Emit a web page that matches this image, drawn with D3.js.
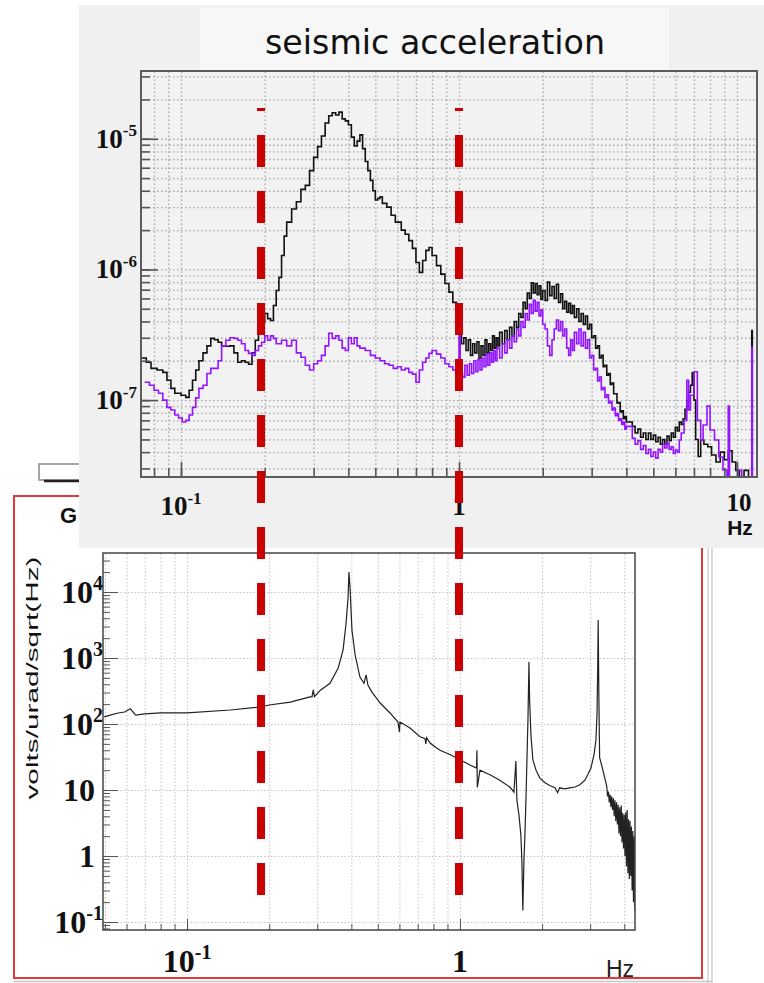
<!DOCTYPE html>
<html><head><meta charset="utf-8">
<script src="https://cdn.jsdelivr.net/npm/d3@7"></script>
<style>body{margin:0;background:#fff;} svg{display:block;}</style>
</head><body>
<svg id="c" width="764" height="983"></svg>
<script>
// ---------- DATA ----------
const topTitle = "seismic acceleration";
const topFreqBlack = [0.072,0.075,0.078,0.082,0.086,0.089,0.092,0.095,0.1,0.104,
0.107,0.11,0.113,0.116,0.12,0.124,0.128,0.132,0.136,0.14,
0.145,0.15,0.155,0.16,0.165,0.17,0.175,0.18,0.185,0.19,
0.195,0.2,0.205,0.21,0.215,0.22,0.225,0.23,0.235,0.24,
0.25,0.26,0.27,0.28,0.29,0.3,0.31,0.32,0.33,0.34,
0.35,0.36,0.37,0.38,0.39,0.4,0.41,0.42,0.43,0.44,
0.45,0.46,0.47,0.48,0.49,0.5,0.51,0.52,0.53,0.55,
0.57,0.59,0.62,0.64,0.66,0.68,0.7,0.72,0.74,0.76,
0.78,0.8,0.83,0.86,0.89,0.92,0.95,0.98,
1.00,1.02,1.04,1.06,1.08,1.10,1.12,1.14,1.16,1.18,1.20,1.22,1.24,1.26,1.28,1.30,1.32,1.34,1.36,1.38,1.40,
1.43,1.46,1.49,1.52,1.55,1.58,1.61,1.64,1.67,1.70,1.73,1.76,1.79,1.82,1.85,1.88,1.91,1.94,1.97,
2.00,2.04,2.08,2.12,2.16,2.20,2.24,2.28,2.32,2.36,2.40,2.44,2.48,2.52,2.56,2.60,
2.65,2.70,2.75,2.80,2.85,2.90,2.95,3.00,3.05,3.10,3.15,3.20,3.25,3.30,3.35,3.40,3.45,3.50,3.55,3.60,3.65,3.70,3.75,3.80,3.85,3.90,3.95,4.00,
4.2,4.3,4.4,4.5,4.6,4.7,4.8,4.9,5.0,5.1,5.2,5.3,5.4,5.5,5.6,5.7,5.8,5.9,6.0,6.1,
6.2,6.3,6.4,6.5,6.6,6.7,6.8,6.9,7.0,7.1,7.25,7.4,7.6,7.85,8.1,8.4,8.7,9.0,9.3,9.6,
9.9,10.2,10.6,11.0,11.25,11.3,11.35,11.8];
const topAccelBlack = [2.1e-7,1.95e-7,1.75e-7,1.7e-7,1.63e-7,1.42e-7,1.23e-7,1.13e-7,1.09e-7,1.05e-7,
1.19e-7,1.42e-7,1.7e-7,2.0e-7,2.3e-7,2.6e-7,2.97e-7,2.9e-7,2.77e-7,2.58e-7,
2.58e-7,2.6e-7,2.3e-7,1.95e-7,2.0e-7,1.95e-7,1.88e-7,2.3e-7,2.87e-7,3.2e-7,
3.95e-7,4.6e-7,4.2e-7,4.07e-7,5.3e-7,6.9e-7,8.7e-7,1.28e-6,1.8e-6,2.3e-6,
2.9e-6,3.3e-6,4.1e-6,4.4e-6,5.7e-6,7.2e-6,8.7e-6,1.05e-5,1.32e-5,1.5e-5,
1.58e-5,1.52e-5,1.6e-5,1.42e-5,1.37e-5,1.28e-5,1.03e-5,8.8e-6,9.6e-6,1.07e-5,
8.4e-6,6.7e-6,5.7e-6,4.8e-6,4.0e-6,3.4e-6,3.5e-6,3.6e-6,3.2e-6,3.0e-6,
2.6e-6,2.3e-6,2.0e-6,1.86e-6,1.66e-6,1.45e-6,1.13e-6,9.5e-7,1.17e-6,1.4e-6,
1.47e-6,1.28e-6,1.07e-6,9.2e-7,7.8e-7,6.7e-7,5.6e-7,4.2e-7,
3.4e-7,2.7e-7,3.0e-7,2.4e-7,2.9e-7,2.2e-7,2.7e-7,2.3e-7,2.8e-7,2.1e-7,2.6e-7,2.2e-7,2.9e-7,2.3e-7,2.7e-7,2.4e-7,3.1e-7,2.5e-7,3.0e-7,2.6e-7,3.3e-7,
2.7e-7,3.4e-7,2.9e-7,3.6e-7,3.1e-7,4.0e-7,3.6e-7,4.6e-7,4.3e-7,5.6e-7,5.0e-7,6.6e-7,6.0e-7,7.9e-7,6.6e-7,7.8e-7,6.4e-7,7.5e-7,5.9e-7,
6.9e-7,5.8e-7,8.0e-7,6.3e-7,7.4e-7,6.0e-7,7.7e-7,5.6e-7,6.5e-7,5.0e-7,5.7e-7,4.7e-7,5.5e-7,4.6e-7,5.3e-7,4.3e-7,
5.0e-7,4.0e-7,4.6e-7,3.8e-7,4.4e-7,3.5e-7,3.8e-7,3.0e-7,3.1e-7,2.5e-7,2.6e-7,2.1e-7,2.2e-7,1.8e-7,1.85e-7,1.55e-7,1.6e-7,1.32e-7,1.35e-7,1.12e-7,1.12e-7,9.5e-8,9.6e-8,8.1e-8,8.3e-8,7.2e-8,7.5e-8,6.8e-8,
6.3e-8,5.6e-8,6.0e-8,5.2e-8,5.6e-8,5.0e-8,5.6e-8,5.0e-8,5.4e-8,4.8e-8,5.2e-8,4.6e-8,5.0e-8,4.6e-8,5.3e-8,4.9e-8,5.6e-8,5.2e-8,6.2e-8,5.8e-8,
6.8e-8,6.5e-8,7.2e-8,8.5e-8,1.0e-7,1.15e-7,1.3e-7,1.62e-7,1.0e-7,5.0e-8,3.7e-8,4.95e-8,4.6e-8,4.4e-8,3.8e-8,3.36e-8,4.0e-8,3.5e-8,4.1e-8,3.36e-8,
2.9e-8,2.5e-8,2.9e-8,2.5e-8,2.5e-8,3.4e-7,2.5e-8,2.5e-8];

const topFreqPurple = [0.074,0.077,0.08,0.083,0.086,0.089,0.092,0.095,0.098,0.101,
0.104,0.107,0.11,0.113,0.116,0.12,0.124,0.128,0.132,0.136,
0.14,0.145,0.15,0.155,0.16,0.165,0.17,0.175,0.18,0.185,
0.19,0.195,0.2,0.205,0.21,0.215,0.22,0.23,0.24,0.25,
0.26,0.27,0.28,0.29,0.3,0.31,0.32,0.33,0.34,0.35,
0.36,0.37,0.38,0.39,0.4,0.41,0.42,0.43,0.44,0.46,
0.48,0.5,0.52,0.54,0.56,0.58,0.6,0.62,0.64,0.66,
0.68,0.7,0.72,0.74,0.76,0.78,0.8,0.83,0.86,0.89,
0.92,0.95,0.98,
1.00,1.01,1.03,1.05,1.07,1.09,1.11,1.13,1.15,1.17,1.19,1.21,1.23,1.25,1.27,1.29,1.31,1.33,1.35,1.37,
1.40,1.43,1.46,1.49,1.52,1.55,1.58,1.61,1.64,1.67,1.70,1.73,1.76,1.79,1.82,1.85,1.88,1.91,1.94,1.97,
2.00,2.04,2.08,2.12,2.16,2.20,2.24,2.28,2.32,2.36,2.40,2.44,2.48,2.52,2.56,2.60,
2.65,2.70,2.75,2.80,2.85,2.90,2.95,3.00,3.05,3.10,3.15,3.20,3.25,3.30,3.35,3.40,3.45,3.50,3.55,3.60,3.65,3.70,3.75,3.80,3.85,3.90,3.95,4.00,
4.2,4.3,4.4,4.5,4.6,4.7,4.8,4.9,5.0,5.1,5.2,5.3,5.4,5.5,5.6,5.7,5.8,5.9,6.0,6.1,
6.2,6.3,6.45,6.6,6.7,6.8,7.0,7.2,7.4,7.55,7.8,8.0,8.3,8.6,8.9,9.2,9.3,9.4,10.1,10.4,
11.25,11.3,11.35,11.8];
const topAccelPurple = [1.37e-7,1.3e-7,1.19e-7,1.13e-7,1.0e-7,8.8e-8,8.4e-8,7.7e-8,7.3e-8,6.8e-8,
7.0e-8,7.7e-8,8.8e-8,1.04e-7,1.23e-7,1.3e-7,1.6e-7,1.75e-7,1.75e-7,2.0e-7,
2.6e-7,2.87e-7,3.0e-7,2.97e-7,2.87e-7,2.7e-7,2.4e-7,2.28e-7,2.2e-7,2.4e-7,
2.6e-7,2.77e-7,3.1e-7,2.87e-7,3.1e-7,2.97e-7,2.7e-7,2.87e-7,2.6e-7,2.87e-7,
2.3e-7,2.13e-7,1.85e-7,1.7e-7,1.9e-7,2.0e-7,2.2e-7,2.6e-7,3.25e-7,2.97e-7,
3.1e-7,2.87e-7,2.5e-7,2.4e-7,3.0e-7,2.7e-7,3.0e-7,2.6e-7,2.5e-7,2.4e-7,
2.2e-7,2.1e-7,2.0e-7,1.9e-7,1.85e-7,1.75e-7,1.8e-7,1.7e-7,1.75e-7,1.63e-7,
1.58e-7,1.37e-7,1.7e-7,1.95e-7,2.1e-7,2.28e-7,2.4e-7,2.25e-7,2.1e-7,1.9e-7,
1.8e-7,1.7e-7,1.85e-7,
3.1e-7,1.6e-7,1.5e-7,1.85e-7,1.55e-7,1.9e-7,1.6e-7,2.0e-7,1.65e-7,2.05e-7,1.7e-7,2.1e-7,1.8e-7,2.25e-7,1.85e-7,2.3e-7,1.95e-7,2.4e-7,2.0e-7,2.5e-7,
2.1e-7,2.7e-7,2.3e-7,2.9e-7,2.5e-7,3.1e-7,2.8e-7,3.5e-7,3.1e-7,4.0e-7,3.6e-7,4.6e-7,4.1e-7,5.4e-7,4.6e-7,5.8e-7,4.8e-7,5.6e-7,4.4e-7,4.9e-7,
3.8e-7,3.5e-7,2.6e-7,2.2e-7,2.9e-7,3.5e-7,4.1e-7,3.4e-7,4.0e-7,3.1e-7,3.5e-7,2.5e-7,2.2e-7,2.9e-7,2.4e-7,3.3e-7,
2.7e-7,3.5e-7,2.6e-7,3.3e-7,2.5e-7,2.9e-7,2.1e-7,2.2e-7,1.7e-7,1.75e-7,1.4e-7,1.5e-7,1.2e-7,1.25e-7,1.05e-7,1.1e-7,9.5e-8,9.8e-8,8.4e-8,8.7e-8,7.6e-8,7.9e-8,7.0e-8,7.2e-8,6.5e-8,6.8e-8,6.0e-8,6.3e-8,
5.1e-8,4.6e-8,4.9e-8,4.2e-8,4.5e-8,3.9e-8,4.2e-8,3.7e-8,4.0e-8,3.6e-8,4.2e-8,4.0e-8,4.6e-8,4.3e-8,4.7e-8,4.2e-8,4.4e-8,3.9e-8,4.15e-8,4.0e-8,
4.95e-8,5.6e-8,7.0e-8,1.42e-7,8.4e-8,1.09e-7,1.65e-7,7.0e-8,4.95e-8,6.45e-8,9.0e-8,5.9e-8,4.95e-8,3.67e-8,2.92e-8,2.5e-8,9.0e-8,2.5e-8,2.9e-8,2.5e-8,
2.5e-8,2.54e-7,2.5e-8,2.5e-8];

const botFreq = [0.0497,0.0523,0.0559,0.059,0.062,0.0648,0.07,0.08,0.1,0.144,
0.185,0.2,0.239,0.282,0.287,0.29,0.293,0.308,0.334,0.358,
0.373,0.382,0.389,0.392,0.396,0.402,0.413,0.43,0.445,0.453,
0.46,0.476,0.51,0.554,0.593,0.6,0.603,0.656,0.714,0.745,
0.75,0.755,0.777,0.824,0.845,0.919,1.0,1.088,1.15,1.154,
1.158,1.184,1.288,1.4,1.524,1.577,1.603,1.617,1.645,1.672,
1.686,1.7,1.716,1.73,1.745,1.76,1.775,1.79,1.8,1.82,
1.85,1.9,1.96,2.05,2.14,2.23,2.28,2.32,2.42,2.53,
2.64,2.75,2.87,2.94,3.02,3.1,3.15,3.18,3.2,3.21,
3.23,3.25,3.34,
3.45,3.475,3.5,3.525,3.55,3.575,3.6,3.625,3.65,3.675,3.7,3.725,3.75,3.775,3.8,3.825,3.85,3.875,3.9,3.925,
3.95,3.975,4.0,4.025,4.05,4.075,4.1,4.125,4.15,4.175,4.2,4.225,4.25,4.275,4.3,4.325,4.35,4.375];
const botResponse = [128,136,147,152,170,136,142,147,147,163,
181,194,215,257,257,330,260,326,414,706,
1330,3160,8100,20000,10700,2650,1110,515,414,555,
390,305,208,147,107,76,107,87,64,60,
50,62,51.5,43,40,34.5,28.8,24,21.5,40,
11,20,17,14.1,11.1,9.3,27.5,7.0,4.2,2.08,
0.87,0.15,0.87,2.08,7.0,28.8,115,870,232,69,
28.8,20,15.3,12.9,11.6,10.8,9.1,10.8,10.4,10.8,
11.1,12.0,14.1,17,21.5,34.5,57.3,147,933,3770,
232,31,20,
11.5,8.0,9.5,6.5,8.5,5.5,8.0,5.0,7.5,4.0,7.0,3.4,6.5,3.0,6.0,2.2,5.5,2.0,5.8,1.6,
4.5,1.3,4.2,1.0,4.6,0.7,5.0,0.55,3.6,0.45,3.4,0.5,2.8,0.3,2.4,0.2,2.0,0.15];

const markerFreqs = [0.194, 1.0];
const topYTickValues = [1e-7, 1e-6, 1e-5];
const topYTickLabels = [["10","-7"],["10","-6"],["10","-5"]];
const topXTickValues = [0.1, 1, 10];
const topXTickLabels = [["10","-1"],["1",""],["10",""]];
const botYTickValues = [0.1, 1, 10, 100, 1000, 10000];
const botYTickLabels = [["10","-1"],["1",""],["10",""],["10","2"],["10","3"],["10","4"]];
const botXTickValues = [0.1, 1];
const botXTickLabels = [["10","-1"],["1",""]];
const botYTitle = "volts/urad/sqrt(Hz)";
const unitLabel = "Hz";
const sideLabel = "G";

// ---------- DRAW ----------
const svg = d3.select("#c");
svg.append("rect").attr("width",764).attr("height",983).attr("fill","#fff");

const SERIF = "'Liberation Serif','Times New Roman',serif";
const SANS = "'Liberation Sans',Arial,sans-serif";

function supLabel(g, x, y, parts, size, supSize, anchor){
  const t = g.append("text").attr("x",x).attr("y",y).attr("text-anchor",anchor)
    .attr("font-family",SERIF).attr("font-weight","bold").attr("font-size",size).attr("fill","#111");
  t.append("tspan").text(parts[0]);
  if(parts[1]) t.append("tspan").attr("dy",-size*0.42).attr("font-size",supSize).text(parts[1]);
  return t;
}

// ----- bottom panel (behind) -----
const bp = svg.append("g");
bp.append("rect").attr("x",39).attr("y",464).attr("width",45).attr("height",16)
  .attr("fill","#fff").attr("stroke","#888").attr("stroke-width",1.5);
bp.append("line").attr("x1",44).attr("x2",84).attr("y1",481).attr("y2",481).attr("stroke","#222").attr("stroke-width",2.5);
bp.append("rect").attr("x",14).attr("y",496).attr("width",688).attr("height",482)
  .attr("fill","none").attr("stroke","#e23a3a").attr("stroke-width",2);
bp.append("line").attr("x1",708).attr("x2",708).attr("y1",540).attr("y2",983).attr("stroke","#c8c8c8").attr("stroke-width",1.3);
bp.append("line").attr("x1",712).attr("x2",712).attr("y1",540).attr("y2",983).attr("stroke","#c8c8c8").attr("stroke-width",1.3);
bp.append("line").attr("x1",14).attr("x2",712).attr("y1",981.5).attr("y2",981.5).attr("stroke","#c8c8c8").attr("stroke-width",1.3);
bp.append("text").attr("x",60).attr("y",523).attr("font-family",SANS).attr("font-weight","bold")
  .attr("font-size",22).attr("fill","#111").text(sideLabel);
bp.append("text").attr("transform","translate(38,678) rotate(-90)").attr("text-anchor","middle")
  .attr("font-family",SANS).attr("font-size",17).attr("fill","#111")
  .attr("textLength",243).attr("lengthAdjust","spacingAndGlyphs").text(botYTitle);

const xB = d3.scaleLog().domain([0.0492, 4.38]).range([103, 635]);
const yB = d3.scaleLog().domain([0.0757, 3.9e4]).range([930, 553]);
const bpl = bp.append("g");
bpl.append("rect").attr("x",103).attr("y",553).attr("width",532).attr("height",377).attr("fill","#fff");
bpl.append("g").attr("transform","translate(0,930)")
  .call(d3.axisBottom(xB).tickValues(xB.ticks()).tickSize(-377).tickFormat(""))
  .call(g=>{g.select(".domain").remove(); g.selectAll("line").attr("stroke","#c4c4c4").attr("stroke-dasharray","1.5,2");});
bpl.append("g").attr("transform","translate(103,0)")
  .call(d3.axisLeft(yB).tickValues(botYTickValues).tickSize(-532).tickFormat(""))
  .call(g=>{g.select(".domain").remove(); g.selectAll("line").attr("stroke","#c4c4c4").attr("stroke-dasharray","1.5,2");});
bpl.append("g").attr("transform","translate(103,0)")
  .call(d3.axisLeft(yB).tickValues(yB.ticks()).tickSize(-7).tickFormat(""))
  .call(g=>{g.select(".domain").remove(); g.selectAll("line").attr("stroke","#555");});
bpl.append("g").attr("transform","translate(103,0)")
  .call(d3.axisLeft(yB).tickValues(botYTickValues).tickSize(-15).tickFormat(""))
  .call(g=>{g.select(".domain").remove(); g.selectAll("line").attr("stroke","#555");});
bpl.append("g").attr("transform","translate(0,930)")
  .call(d3.axisBottom(xB).tickValues(xB.ticks()).tickSize(-6).tickFormat(""))
  .call(g=>{g.select(".domain").remove(); g.selectAll("line").attr("stroke","#555");});
bpl.append("g").attr("transform","translate(0,930)")
  .call(d3.axisBottom(xB).tickValues(botXTickValues).tickSize(-11).tickFormat(""))
  .call(g=>{g.select(".domain").remove(); g.selectAll("line").attr("stroke","#555");});
bpl.append("clipPath").attr("id","cb").append("rect").attr("x",103).attr("y",553).attr("width",532).attr("height",377);
const botData = botFreq.map((f,i)=>({f, v: botResponse[i]}));
bpl.append("path").datum(botData).attr("clip-path","url(#cb)")
  .attr("d", d3.line().x(d=>xB(d.f)).y(d=>yB(d.v)))
  .attr("fill","none").attr("stroke","#222").attr("stroke-width",1.2);
bpl.append("rect").attr("x",103).attr("y",553).attr("width",532).attr("height",377)
  .attr("fill","none").attr("stroke","#444").attr("stroke-width",1.5);
botYTickValues.forEach((v,i)=>{
  const p = botYTickLabels[i];
  supLabel(bpl, p[1] ? 103 : 95, yB(v)+11, p, 32, 20, "end");
});
botXTickValues.forEach((v,i)=>{
  supLabel(bpl, xB(v), 972, botXTickLabels[i], 32, 20, "middle");
});
bpl.append("text").attr("x",620).attr("y",977).attr("text-anchor","middle").attr("font-family",SANS)
  .attr("font-size",23).attr("fill","#222").text(unitLabel);

// ----- top panel -----
const tp = svg.append("g");
tp.append("rect").attr("x",79).attr("y",5).attr("width",685).attr("height",543).attr("fill","#f0f0f0");
tp.append("rect").attr("x",200).attr("y",8).attr("width",469).attr("height",63).attr("fill","#f7f7f7");
tp.append("text").attr("x",435).attr("y",54).attr("text-anchor","middle")
  .attr("font-family","'DejaVu Sans',sans-serif").attr("font-size",34).attr("fill","#111")
  .attr("textLength",340).attr("lengthAdjust","spacingAndGlyphs").text(topTitle);

const xT = d3.scaleLog().domain([0.0718, 11.8]).range([141, 757]);
const yT = d3.scaleLog().domain([2.58e-8, 3.3e-5]).range([477, 71]);
tp.append("rect").attr("x",141).attr("y",71).attr("width",616).attr("height",406).attr("fill","#f2f2f2");
tp.append("g").attr("transform","translate(0,477)")
  .call(d3.axisBottom(xT).tickValues(xT.ticks()).tickSize(-406).tickFormat(""))
  .call(g=>{g.select(".domain").remove(); g.selectAll("line").attr("stroke","#a8a8a8").attr("stroke-width",1.3).attr("stroke-dasharray","1.5,2.5");});
tp.append("g").attr("transform","translate(141,0)")
  .call(d3.axisLeft(yT).tickValues(yT.ticks()).tickSize(-616).tickFormat(""))
  .call(g=>{g.select(".domain").remove(); g.selectAll("line").attr("stroke","#a8a8a8").attr("stroke-width",1.3).attr("stroke-dasharray","1.5,2.5");});

tp.append("clipPath").attr("id","ct").append("rect").attr("x",141).attr("y",71).attr("width",616).attr("height",406);
const stepLine = d3.line().x(d=>xT(d.f)).y(d=>yT(d.v)).curve(d3.curveStepAfter);
const blackData = topFreqBlack.map((f,i)=>({f, v: topAccelBlack[i]}));
const purpleData = topFreqPurple.map((f,i)=>({f, v: topAccelPurple[i]}));
tp.append("path").datum(blackData).attr("clip-path","url(#ct)").attr("d",stepLine)
  .attr("fill","none").attr("stroke","#111").attr("stroke-width",1.6);
tp.append("path").datum(purpleData).attr("clip-path","url(#ct)").attr("d",stepLine)
  .attr("fill","none").attr("stroke","#9414ff").attr("stroke-width",1.6);

tp.append("g").attr("transform","translate(141,0)")
  .call(d3.axisLeft(yT).tickValues(yT.ticks()).tickSize(-9).tickFormat(""))
  .call(g=>{g.select(".domain").remove(); g.selectAll("line").attr("stroke","#555").attr("stroke-width",1.6);});
tp.append("g").attr("transform","translate(141,0)")
  .call(d3.axisLeft(yT).tickValues(topYTickValues).tickSize(-17).tickFormat(""))
  .call(g=>{g.select(".domain").remove(); g.selectAll("line").attr("stroke","#555").attr("stroke-width",1.6);});
tp.append("g").attr("transform","translate(0,477)")
  .call(d3.axisBottom(xT).tickValues(xT.ticks()).tickSize(-9).tickFormat(""))
  .call(g=>{g.select(".domain").remove(); g.selectAll("line").attr("stroke","#555").attr("stroke-width",1.6);});
tp.append("g").attr("transform","translate(0,477)")
  .call(d3.axisBottom(xT).tickValues(topXTickValues).tickSize(-15).tickFormat(""))
  .call(g=>{g.select(".domain").remove(); g.selectAll("line").attr("stroke","#555").attr("stroke-width",1.6);});
tp.append("rect").attr("x",141).attr("y",71).attr("width",616).attr("height",406)
  .attr("fill","none").attr("stroke","#5c5c5c").attr("stroke-width",2);

topYTickValues.forEach((v,i)=>{ supLabel(tp, 137, yT(v)+9, topYTickLabels[i], 27, 17, "end"); });
topXTickValues.forEach((v,i)=>{ supLabel(tp, xT(v)+(i==2?2:0), i==2?511:515, topXTickLabels[i], i==2?25:27, 17, "middle"); });
tp.append("text").attr("x",740).attr("y",535).attr("text-anchor","middle").attr("font-family",SANS)
  .attr("font-weight","bold").attr("font-size",21).attr("fill","#111").text(unitLabel);

// ----- red dashed markers -----
svg.append("g").selectAll("line").data(markerFreqs).join("line")
  .attr("x1",d=>xT(d)).attr("x2",d=>xT(d)).attr("y1",108).attr("y2",895)
  .attr("stroke","#cc0000").attr("stroke-width",8)
  .attr("stroke-dasharray","32,24").attr("stroke-dashoffset",29);
</script>
</body></html>
